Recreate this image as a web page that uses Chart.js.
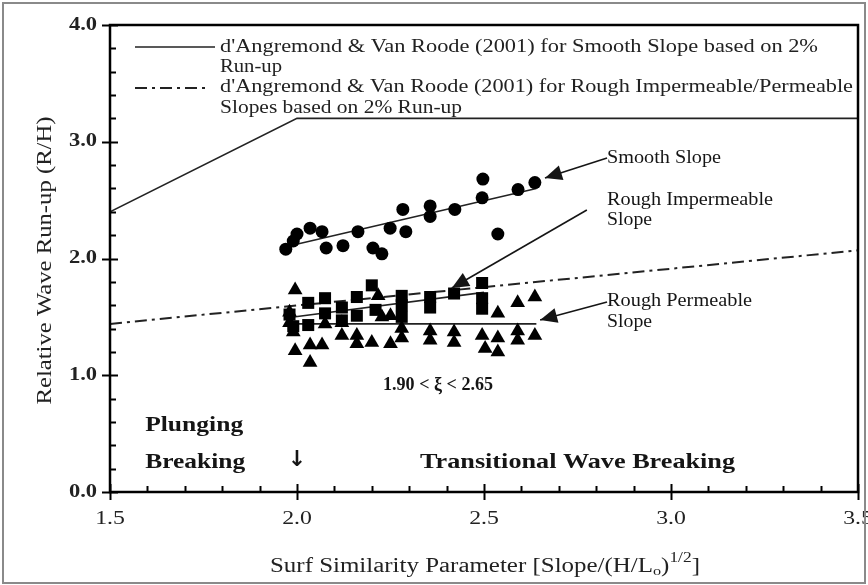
<!DOCTYPE html>
<html>
<head>
<meta charset="utf-8">
<script src="https://cdn.jsdelivr.net/npm/chart.js@4.4.0/dist/chart.umd.min.js"></script>
<style>
  body { margin: 0; background: #fff; }
  #wrap { width: 868px; height: 585px; position: relative; }
</style>
</head>
<body>
<div id="wrap"><canvas id="runupChart"></canvas></div>
<script>
// DATA
const smoothX = [1.97, 1.99, 2.00, 2.035, 2.067, 2.078, 2.123, 2.163, 2.203, 2.227, 2.249, 2.283, 2.291, 2.356, 2.356, 2.422, 2.497, 2.495, 2.537, 2.591, 2.636];
const smoothY = [2.08, 2.15, 2.21, 2.26, 2.23, 2.09, 2.11, 2.23, 2.09, 2.04, 2.26, 2.42, 2.23, 2.45, 2.36, 2.42, 2.68, 2.52, 2.21, 2.59, 2.65];

const impX = [1.98, 1.99, 2.03, 2.03, 2.075, 2.075, 2.12, 2.12, 2.16, 2.16, 2.20, 2.21, 2.28, 2.28, 2.28, 2.356, 2.356, 2.42, 2.495, 2.495, 2.495];
const impY = [1.52, 1.42, 1.62, 1.43, 1.66, 1.53, 1.58, 1.47, 1.67, 1.51, 1.77, 1.56, 1.68, 1.60, 1.50, 1.67, 1.58, 1.70, 1.79, 1.66, 1.57];

const permX = [1.995, 1.98, 1.98, 1.99, 1.995, 2.035, 2.067, 2.035, 2.075, 2.12, 2.12, 2.16, 2.16, 2.217, 2.227, 2.20, 2.25, 2.25, 2.28, 2.28,
               2.356, 2.356, 2.42, 2.42, 2.495, 2.503, 2.537, 2.537, 2.537, 2.59, 2.59, 2.59, 2.636, 2.636];
const permY = [1.73, 1.54, 1.45, 1.37, 1.21, 1.26, 1.26, 1.11, 1.44, 1.45, 1.34, 1.34, 1.27, 1.68, 1.50, 1.28, 1.27, 1.51, 1.40, 1.32,
               1.38, 1.30, 1.37, 1.28, 1.34, 1.23, 1.53, 1.32, 1.20, 1.62, 1.38, 1.30, 1.67, 1.34];

// fitted lines
const smoothFitX = [1.97, 2.64], smoothFitY = [2.10, 2.60];
const impFitX = [1.97, 2.50], impFitY = [1.49, 1.71];
const permFitX = [1.97, 2.64], permFitY = [1.44, 1.44];
// d'Angremond & Van Roode curves
const dvrSmoothX = [1.5, 2.0, 3.5], dvrSmoothY = [2.4, 3.2, 3.2];
const dvrRoughX = [1.5, 3.5], dvrRoughY = [1.44, 2.07];

// leader arrows [fromX, fromY, tipX, tipY]
const arrows = [
  [2.829, 2.861, 2.663, 2.69],
  [2.775, 2.415, 2.414, 1.747],
  [2.829, 1.627, 2.65, 1.473]
];

// axes
const xTicksMajor = [1.5, 2.0, 2.5, 3.0, 3.5];
const yTicksMajor = [0, 1, 2, 3, 4];

// annotations [text, x, y, font, width]
const SERIF = '"Liberation Serif", "Times New Roman", Times, serif';
const notes = [
  ['Smooth Slope', 2.829, 2.861, '18px ' + SERIF, 114],
  ['Rough Impermeable', 2.829, 2.50, '18px ' + SERIF, 166],
  ['Slope', 2.829, 2.33, '18px ' + SERIF, 45],
  ['Rough Permeable', 2.829, 1.636, '18px ' + SERIF, 145],
  ['Slope', 2.829, 1.456, '18px ' + SERIF, 45],
  ['1.90 < \u03BE < 2.65', 2.23, 0.916, 'bold 18px ' + SERIF, 110],
  ['Plunging', 1.594, 0.574, 'bold 22px ' + SERIF, 98],
  ['Breaking', 1.594, 0.257, 'bold 22px ' + SERIF, 100],
  ['Transitional Wave Breaking', 2.329, 0.257, 'bold 22px ' + SERIF, 315]
];

const legendLines = [
  ["d'Angremond & Van Roode (2001) for Smooth Slope based on 2%", 47, 598],
  ['Run-up', 67, 62],
  ["d'Angremond & Van Roode (2001) for Rough Impermeable/Permeable", 87, 633],
  ['Slopes based on 2% Run-up', 108, 242]
];

// HELPER: texte étiré horizontalement
function txt(ctx, s, x, y, font, w, align) {
  ctx.font = font;
  const m = ctx.measureText(s).width;
  const k = w ? w / m : 1.25;
  ctx.save();
  ctx.translate(x, y);
  ctx.scale(k, 1);
  ctx.textAlign = align || 'left';
  ctx.textBaseline = 'middle';
  ctx.fillText(s, 0, 0);
  ctx.restore();
}

function arrowHead(ctx, x0, y0, x1, y1) {
  const a = Math.atan2(y1 - y0, x1 - x0);
  const len = 17, hw = 7.5;
  ctx.beginPath();
  ctx.moveTo(x1, y1);
  ctx.lineTo(x1 - len * Math.cos(a) + hw * Math.sin(a), y1 - len * Math.sin(a) - hw * Math.cos(a));
  ctx.lineTo(x1 - len * Math.cos(a) - hw * Math.sin(a), y1 - len * Math.sin(a) + hw * Math.cos(a));
  ctx.closePath();
  ctx.fill();
}

// PLUGIN: cadre, graduations, textes
const decor = {
  id: 'decor',
  afterDatasetsDraw(chart) {
    const { ctx, chartArea: a, scales: { x, y } } = chart;
    ctx.save();
    ctx.fillStyle = '#151515';
    ctx.strokeStyle = '#151515';

    // leader arrows
    ctx.lineWidth = 1.6;
    arrows.forEach(([fx, fy, tx, ty]) => {
      const x0 = x.getPixelForValue(fx), y0 = y.getPixelForValue(fy);
      const x1 = x.getPixelForValue(tx), y1 = y.getPixelForValue(ty);
      ctx.beginPath(); ctx.moveTo(x0, y0); ctx.lineTo(x1, y1); ctx.stroke();
      arrowHead(ctx, x0, y0, x1, y1);
    });

    // frame
    ctx.strokeStyle = '#000';
    ctx.lineWidth = 2.5;
    ctx.strokeRect(a.left, a.top, a.right - a.left, a.bottom - a.top);

    // y ticks
    ctx.lineWidth = 2;
    for (let v = 0; v <= 4.001; v += 0.2) {
      const py = Math.round(y.getPixelForValue(v)) + 0.5;
      const major = Math.abs(v - Math.round(v)) < 1e-6;
      ctx.beginPath();
      ctx.moveTo(a.left - (major ? 8 : 0), py);
      ctx.lineTo(a.left + (major ? 8 : 6), py);
      ctx.stroke();
    }
    // x ticks
    for (let v = 1.5; v <= 3.5001; v += 0.1) {
      const px = Math.round(x.getPixelForValue(v)) + 0.5;
      const major = Math.abs(v * 2 - Math.round(v * 2)) < 1e-6;
      ctx.beginPath();
      ctx.moveTo(px, a.bottom + (major ? 8 : 0));
      ctx.lineTo(px, a.bottom - (major ? 8 : 6));
      ctx.stroke();
    }

    // tick labels
    ctx.fillStyle = '#222';
    xTicksMajor.forEach(v => txt(ctx, v.toFixed(1), x.getPixelForValue(v), a.bottom + 27, '19px ' + SERIF, 0, 'center'));
    yTicksMajor.forEach(v => txt(ctx, v.toFixed(1), a.left - 13, y.getPixelForValue(v), 'bold 18px ' + SERIF, 0, 'right'));

    // axis titles
    ctx.save();
    ctx.translate(45, (a.top + a.bottom) / 2 + 2);
    ctx.rotate(-Math.PI / 2);
    txt(ctx, 'Relative Wave Run-up (R/H)', 0, 0, '21px ' + SERIF, 288, 'center');
    ctx.restore();

    // x title with sub/superscript
    const parts = [
      ['Surf Similarity Parameter [Slope/(H/L', 20, 0],
      ['o', 13, 5],
      [')', 20, 0],
      ['1/2', 14, -9],
      [']', 20, 0]
    ];
    let tot = 0;
    parts.forEach(p => { ctx.font = p[1] + 'px ' + SERIF; tot += ctx.measureText(p[0]).width; });
    const k = 430 / tot;
    ctx.save();
    ctx.translate(270, 567);
    ctx.scale(k, 1);
    ctx.textBaseline = 'middle';
    ctx.textAlign = 'left';
    let off = 0;
    parts.forEach(p => {
      ctx.font = p[1] + 'px ' + SERIF;
      ctx.fillText(p[0], off, p[2]);
      off += ctx.measureText(p[0]).width;
    });
    ctx.restore();

    // annotations
    ctx.fillStyle = '#151515';
    notes.forEach(([s, vx, vy, f, w]) => txt(ctx, s, x.getPixelForValue(vx), y.getPixelForValue(vy), f, w));
    ctx.font = 'bold 22px "DejaVu Sans", sans-serif';
    ctx.textAlign = 'center';
    ctx.textBaseline = 'middle';
    ctx.fillText('\u2193', x.getPixelForValue(2.0), y.getPixelForValue(0.27));

    // legend
    ctx.strokeStyle = '#222';
    ctx.lineWidth = 1.6;
    ctx.beginPath();
    ctx.moveTo(a.left + 25, a.top + 22); ctx.lineTo(a.left + 105, a.top + 22);
    ctx.stroke();
    ctx.lineWidth = 2;
    ctx.setLineDash([12, 5, 3, 5]);
    ctx.beginPath();
    ctx.moveTo(a.left + 25, a.top + 63); ctx.lineTo(a.left + 97, a.top + 63);
    ctx.stroke();
    ctx.setLineDash([]);
    ctx.fillStyle = '#222';
    legendLines.forEach(([s, py, w]) => txt(ctx, s, a.left + 110, py, '19px ' + SERIF, w));

    ctx.restore();

    // outer frame
    ctx.save();
    ctx.strokeStyle = '#8a8a8a';
    ctx.lineWidth = 2;
    ctx.strokeRect(3, 3, chart.width - 6, chart.height - 5);
    ctx.restore();
  }
};

const zip = (xs, ys) => xs.map((v, i) => ({ x: v, y: ys[i] }));
const lineSet = (xs, ys, extra) => Object.assign({
  data: zip(xs, ys), showLine: true, pointRadius: 0, borderColor: '#222',
  borderWidth: 1.6, fill: false, order: 2
}, extra || {});
const pointSet = (xs, ys, style, r) => ({
  data: zip(xs, ys), pointStyle: style, pointRadius: r, pointHoverRadius: r,
  backgroundColor: '#000', borderColor: '#000', borderWidth: 0, showLine: false, order: 1
});

new Chart(document.getElementById('runupChart'), {
  type: 'scatter',
  data: {
    datasets: [
      lineSet(dvrSmoothX, dvrSmoothY),
      lineSet(dvrRoughX, dvrRoughY, { borderDash: [12, 5, 3, 5], borderWidth: 2 }),
      lineSet(smoothFitX, smoothFitY),
      lineSet(impFitX, impFitY),
      lineSet(permFitX, permFitY),
      pointSet(smoothX, smoothY, 'circle', 6.5),
      pointSet(impX, impY, 'rect', 8.5),
      pointSet(permX, permY, 'triangle', 8.5)
    ]
  },
  options: {
    responsive: true,
    maintainAspectRatio: false,
    animation: false,
    layout: { padding: { top: 25, right: 10, bottom: 0, left: 0 } },
    plugins: { legend: { display: false }, tooltip: { enabled: false } },
    scales: {
      x: {
        type: 'linear', min: 1.5, max: 3.5,
        grid: { display: false }, border: { display: false },
        ticks: { display: false },
        afterFit: s => { s.height = 93; }
      },
      y: {
        type: 'linear', min: 0, max: 4,
        grid: { display: false }, border: { display: false },
        ticks: { display: false },
        afterFit: s => { s.width = 110; }
      }
    }
  },
  plugins: [decor]
});
</script>
</body>
</html>
